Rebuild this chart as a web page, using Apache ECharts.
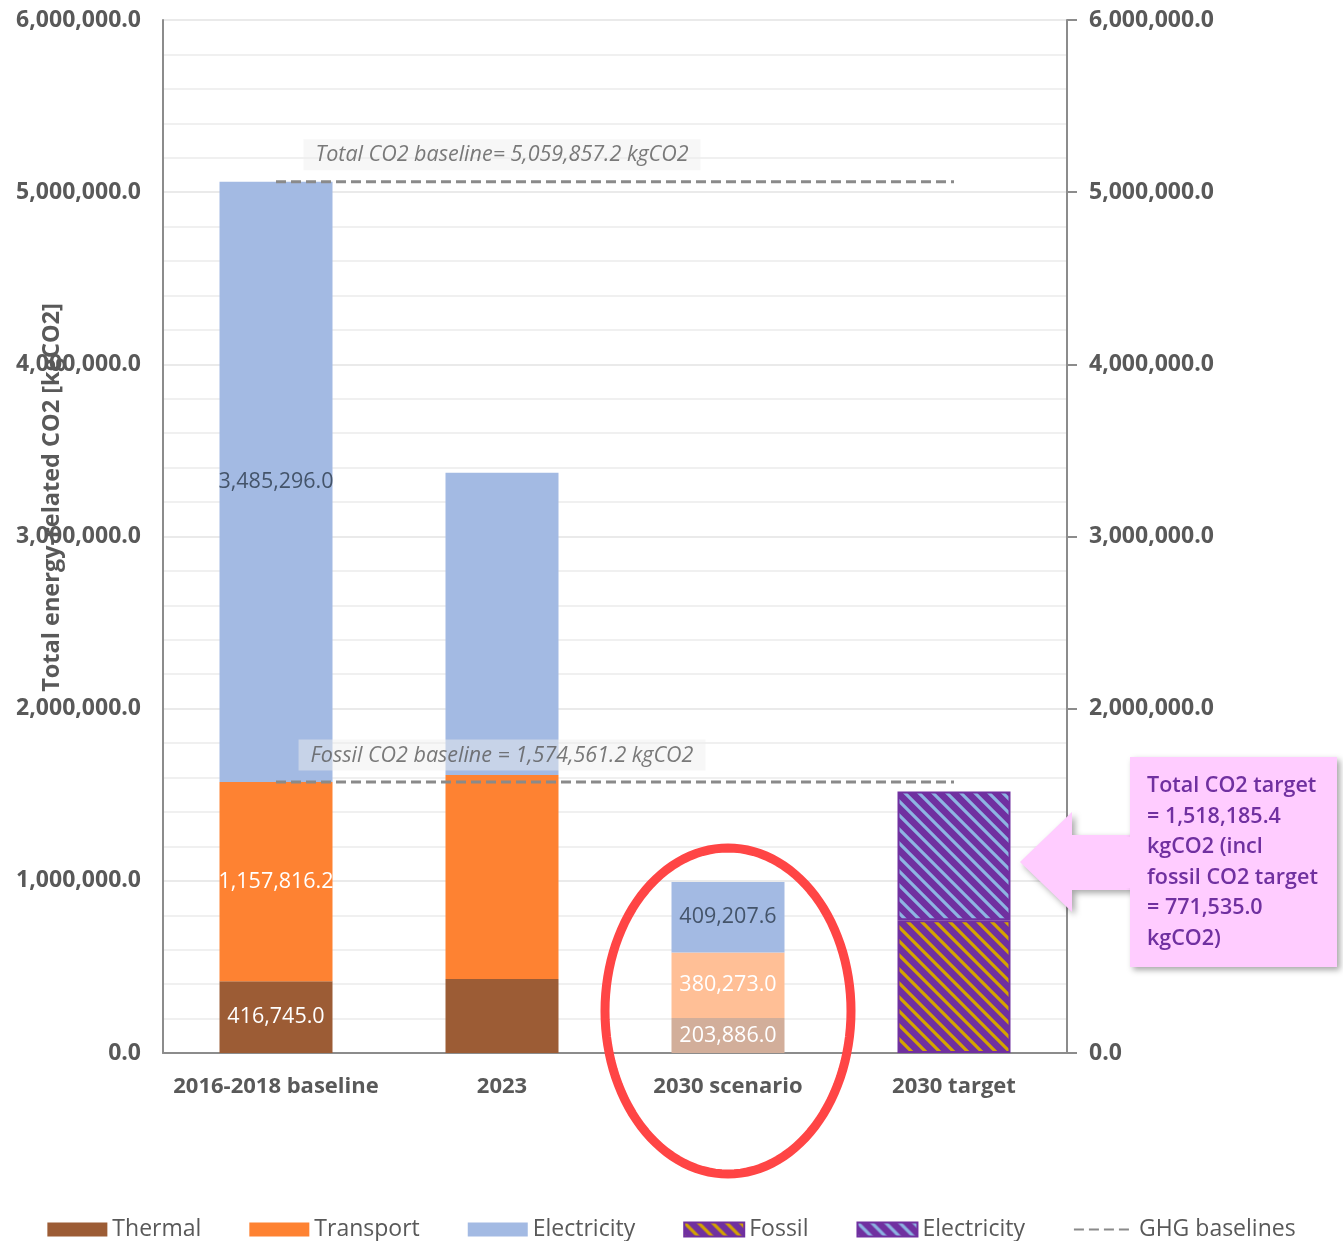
<!DOCTYPE html>
<html>
<head>
<meta charset="utf-8">
<script src="https://cdn.jsdelivr.net/npm/echarts@6/dist/echarts.min.js"></script>
<style>
html,body{margin:0;padding:0;background:#fff;}
#c{width:1343px;height:1241px;}
</style>
</head>
<body>
<div id="c"></div>
<script>
// ---- data ----
const categories = ['2016-2018 baseline', '2023', '2030 scenario', '2030 target'];
const thermal = [416745.0, 430000, 203886.0, null];
const transport = [1157816.2, 1185000, 380273.0, null];
const electricity = [3485296.0, 1756000, 409207.6, null];
const fossilTarget = [null, null, null, 771535.0];
const electricityTarget = [null, null, null, 746650.4];
const totalBaseline = 5059857.2;
const fossilBaseline = 1574561.2;
const totalTarget = 1518185.4;
const fossilTargetValue = 771535.0;
const labelledBars = [0, 2];
const yTicks = [0, 1000000, 2000000, 3000000, 4000000, 5000000, 6000000];

const FONT = '"Open Sans", "Liberation Sans", sans-serif';
const fmt = v => Number(v).toLocaleString('en-US', {minimumFractionDigits: 1, maximumFractionDigits: 1});

function stripe(bg, fg) {
  const n = 14;
  const c = document.createElement('canvas');
  c.width = n; c.height = n;
  const g = c.getContext('2d');
  g.fillStyle = bg; g.fillRect(0, 0, n, n);
  g.strokeStyle = fg; g.lineWidth = 3.2;
  g.beginPath();
  for (const k of [-n, 0, n]) { g.moveTo(k - 2, -2); g.lineTo(k + n + 2, n + 2); }
  g.stroke();
  return c;
}
const purple = '#7030a0';
const fossilPattern = {image: stripe(purple, '#d4a400'), repeat: 'repeat'};
const elecPattern = {image: stripe(purple, '#8db4e2'), repeat: 'repeat'};

const scenarioColors = {thermal: '#d2ae9a', transport: '#ffbf96', electricity: '#a3bae3'};

function build(values, scenColor, labelColor) {
  return values.map((v, i) => {
    const item = {value: v};
    if (i === 2) item.itemStyle = {color: scenColor};
    item.label = {show: labelledBars.includes(i) && v != null, color: labelColor};
    return item;
  });
}
const barLabel = {position: 'inside', fontFamily: FONT, fontSize: 21.5, formatter: p => fmt(p.value)};

const chart = echarts.init(document.getElementById('c'), null, {renderer: 'canvas'});

// ellipse outline points (decoration)
const ell = [];
for (let a = 0; a < 120; a++) {
  const t = a / 120 * Math.PI * 2;
  ell.push([728 + 123 * Math.cos(t), 1011 + 163 * Math.sin(t)]);
}

const axisLabelStyle = {fontFamily: FONT, fontSize: 23, fontWeight: 'bold', color: '#595959', margin: 22, formatter: fmt};

const option = {
  animation: false,
  backgroundColor: '#ffffff',
  grid: {left: 163, right: 276, top: 20, bottom: 188, containLabel: false, outerBoundsMode: 'none'},
  legend: {
    top: 1213, left: 'center', itemWidth: 60, itemHeight: 14, itemGap: 48,
    textStyle: {fontFamily: FONT, fontSize: 23, color: '#595959'},
    formatter: n => n.replace('\u200b', ''),
    data: [
      {name: 'Thermal', icon: 'rect'},
      {name: 'Transport', icon: 'rect'},
      {name: 'Electricity', icon: 'rect'},
      {name: 'Fossil', icon: 'rect'},
      {name: 'Electricity\u200b', icon: 'rect'},
      {name: 'GHG baselines', itemStyle: {opacity: 0}}
    ]
  },
  xAxis: {
    type: 'category', data: categories,
    axisLine: {lineStyle: {color: '#8c8c8c', width: 2}},
    axisTick: {show: false},
    axisLabel: {interval: 0, hideOverlap: false, fontFamily: FONT, fontSize: 22, fontWeight: 'bold', color: '#595959', margin: 23}
  },
  yAxis: [{
    type: 'value', min: yTicks[0], max: yTicks[yTicks.length - 1], interval: 1000000,
    name: 'Total energy-related CO2 [kgCO2]', nameLocation: 'middle', nameGap: 99, nameMoveOverlap: false,
    nameTextStyle: {fontFamily: FONT, fontSize: 23.5, fontWeight: 'bold', color: '#595959', padding: [0, 0, 0, 78]},
    axisLine: {show: true, lineStyle: {color: '#8c8c8c', width: 2}},
    axisTick: {show: false},
    axisLabel: axisLabelStyle,
    splitLine: {lineStyle: {color: '#e3e3e3', width: 1.5}},
    minorTick: {show: false, splitNumber: 5},
    minorSplitLine: {show: true, lineStyle: {color: '#ececec', width: 1.5}}
  }, {
    type: 'value', min: yTicks[0], max: yTicks[yTicks.length - 1], interval: 1000000, position: 'right',
    axisLine: {show: true, lineStyle: {color: '#8c8c8c', width: 2}},
    axisTick: {show: true, length: 10, lineStyle: {color: '#8c8c8c', width: 2}},
    axisLabel: axisLabelStyle,
    splitLine: {show: false}
  }],
  series: [
    {name: 'Thermal', type: 'bar', stack: 's', barWidth: '50%', itemStyle: {color: '#9c5c35'},
     label: barLabel, data: build(thermal, scenarioColors.thermal, '#ffffff')},
    {name: 'Transport', type: 'bar', stack: 's', itemStyle: {color: '#fe8232'},
     label: barLabel, data: build(transport, scenarioColors.transport, '#ffffff')},
    {name: 'Electricity', type: 'bar', stack: 's', itemStyle: {color: '#a3bae3'},
     label: barLabel, data: build(electricity, scenarioColors.electricity, '#44546a')},
    {name: 'Fossil', type: 'bar', stack: 's', itemStyle: {color: fossilPattern, borderColor: purple, borderWidth: 2},
     data: fossilTarget},
    {name: 'Electricity\u200b', type: 'bar', stack: 's', itemStyle: {color: elecPattern, borderColor: purple, borderWidth: 2},
     data: electricityTarget},
    {name: 'GHG baselines', type: 'line', symbol: 'none', connectNulls: true, z: 5,
     lineStyle: {color: '#8a8a8a', width: 3, type: [10, 5]}, itemStyle: {color: '#8a8a8a'},
     data: [totalBaseline, null, null, totalBaseline]},
    {name: 'GHG baselines', type: 'line', symbol: 'none', connectNulls: true, z: 5,
     lineStyle: {color: '#8a8a8a', width: 3, type: [10, 5]}, itemStyle: {color: '#8a8a8a'},
     data: [fossilBaseline, null, null, fossilBaseline]},
    {name: 'baselineLabels', type: 'scatter', symbolSize: 1, z: 6,
     itemStyle: {color: 'rgba(0,0,0,0)'},
     label: {show: true, position: 'top', distance: 11, fontFamily: FONT, fontStyle: 'italic', fontSize: 21.5,
             color: '#595959', backgroundColor: 'rgba(238,238,238,0.6)', padding: [5, 12, 4, 12]},
     data: [
       {value: [1, totalBaseline], label: {formatter: 'Total CO2 baseline= ' + fmt(totalBaseline) + ' kgCO2'}},
       {value: [1, fossilBaseline], label: {formatter: 'Fossil CO2 baseline = ' + fmt(fossilBaseline) + ' kgCO2'}}
     ]}
  ],
  graphic: [
    {type: 'polygon', z: 100,
     shape: {points: [[1020, 862], [1072, 812], [1072, 835], [1132, 835], [1132, 890], [1072, 890], [1072, 912]]},
     style: {fill: '#ffccff', shadowBlur: 6, shadowColor: 'rgba(0,0,0,0.35)', shadowOffsetX: 3, shadowOffsetY: 3}},
    {type: 'rect', z: 101, shape: {x: 1130, y: 757, width: 207, height: 210},
     style: {fill: '#ffccff', shadowBlur: 6, shadowColor: 'rgba(0,0,0,0.35)', shadowOffsetX: 3, shadowOffsetY: 3}},
    {type: 'polygon', z: 102,
     shape: {points: [[1022, 862], [1072, 814], [1072, 837], [1134, 837], [1134, 888], [1072, 888], [1072, 910]]},
     style: {fill: '#ffccff'}},
    {type: 'text', z: 103, left: 1147, top: 771,
     style: {text: 'Total CO2 target\n= ' + fmt(totalTarget) + '\nkgCO2 (incl\nfossil CO2 target\n= ' + fmt(fossilTargetValue) + '\nkgCO2)',
             fill: purple, fontFamily: FONT, fontSize: 21.5, fontWeight: 600, lineHeight: 30.5}},
    {type: 'polygon', z: 110, shape: {points: ell},
     style: {fill: 'none', stroke: '#ff4545', lineWidth: 9}}
  ]
};
chart.setOption(option);
</script>
</body>
</html>
